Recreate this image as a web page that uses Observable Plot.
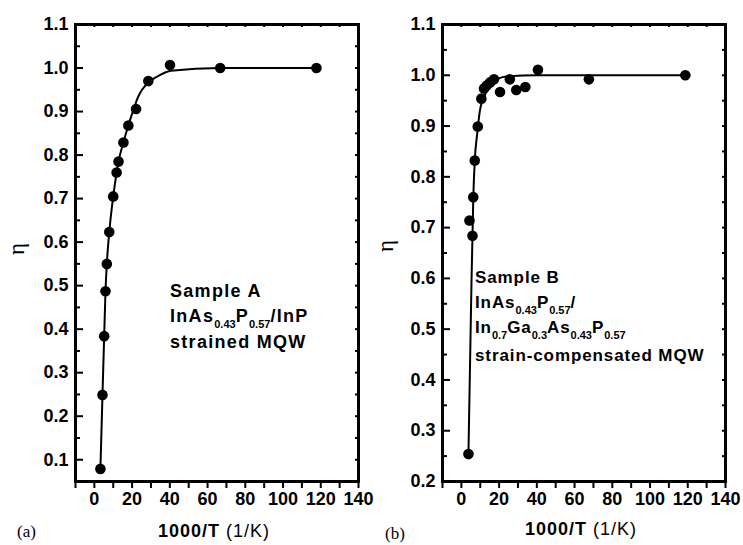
<!DOCTYPE html>
<html><head><meta charset="utf-8">
<script src="https://cdn.jsdelivr.net/npm/d3@7"></script>
<script src="https://cdn.jsdelivr.net/npm/@observablehq/plot@0.6"></script>
<style>
body{margin:0;background:#fff;}
#root{position:relative;width:743px;height:545px;overflow:hidden;font-family:"Liberation Sans",Arial,sans-serif;color:#000;}
.panel{position:absolute;top:0;}
.panel text{font-weight:bold;font-family:"Liberation Sans",Arial,sans-serif;}
.lab{position:absolute;white-space:nowrap;line-height:18px;}
.ann{font-weight:bold;}
.sub{font-size:11px;position:relative;top:6px;letter-spacing:0;}
.eta{font-family:"Liberation Serif","Times New Roman",serif;font-size:23px;transform:translate(-50%,-50%) rotate(-90deg);}
.tag{font-family:"Liberation Serif","Times New Roman",serif;font-size:17px;}
.xt{font-size:18px;letter-spacing:1px;transform:translateX(-50%);}
</style></head><body><div id="root"></div>
<script>
// ---- data ----
const xTicks = [0, 20, 40, 60, 80, 100, 120, 140];
const xMinor = [-10, 10, 30, 50, 70, 90, 110, 130];
const yTicksA = [0.1, 0.2, 0.3, 0.4, 0.5, 0.6, 0.7, 0.8, 0.9, 1.0, 1.1];
const yMinorA = [0.05, 0.15, 0.25, 0.35, 0.45, 0.55, 0.65, 0.75, 0.85, 0.95, 1.05];
const yTicksB = [0.2, 0.3, 0.4, 0.5, 0.6, 0.7, 0.8, 0.9, 1.0, 1.1];
const yMinorB = [0.25, 0.35, 0.45, 0.55, 0.65, 0.75, 0.85, 0.95, 1.05];

// Sample A measured points
const aX = [3.2, 4.3, 5.2, 5.9, 6.6, 7.9, 10.0, 11.8, 12.8, 15.4, 18.0, 22.1, 28.6, 40.1, 66.7, 117.7];
const aY = [0.079, 0.249, 0.384, 0.487, 0.550, 0.623, 0.705, 0.760, 0.785, 0.829, 0.868, 0.906, 0.970, 1.007, 1.000, 1.000];
// Sample A fitted curve
const aFitX = [3.2, 4.3, 5.2, 5.9, 6.6, 7.9, 10.0, 11.8, 12.8, 15.4, 18.0, 20.9, 23.0, 28.6, 34.0, 40.5, 66.7, 117.7];
const aFitY = [0.079, 0.249, 0.384, 0.487, 0.550, 0.623, 0.705, 0.760, 0.785, 0.829, 0.868, 0.906, 0.932, 0.967, 0.982, 0.994, 1.000, 1.000];

// Sample B measured points
const bX = [3.75, 5.9, 4.3, 6.3, 7.1, 8.7, 10.6, 12.0, 13.4, 15.2, 17.3, 20.5, 25.7, 29.1, 33.9, 40.6, 67.6, 118.7];
const bY = [0.254, 0.684, 0.714, 0.760, 0.832, 0.899, 0.954, 0.974, 0.980, 0.986, 0.992, 0.967, 0.992, 0.971, 0.977, 1.011, 0.992, 1.000];
// Sample B fitted curve
const bFitX = [3.75, 5.4, 5.9, 6.3, 7.1, 8.4, 9.8, 12.0, 15.5, 19.1, 25.0, 40.0, 118.7];
const bFitY = [0.254, 0.600, 0.684, 0.755, 0.832, 0.885, 0.930, 0.957, 0.983, 0.993, 0.998, 1.000, 1.000];

// ---- drawing ----
function panel({W, H, mL, mR, mT, mB, yDomain, yTicks, yMinor, px, py, fx, fy}) {
  const fw = W - mL - mR, fh = H - mT - mB;
  const pts = px.map((x, i) => ({x, y: py[i]}));
  const fit = fx.map((x, i) => ({x, y: fy[i]}));
  const fmtY = d3.format(".1f"), fmtX = d3.format("d");
  return Plot.plot({
    width: W, height: H,
    marginLeft: mL, marginRight: mR, marginTop: mT, marginBottom: mB,
    x: {domain: [-10, 140]},
    y: {domain: yDomain},
    style: {fontFamily: "'Liberation Sans', Arial, sans-serif", fontWeight: "bold", color: "#000", background: "transparent", overflow: "visible"},
    marks: [
      // tick labels as text marks (bold)
      Plot.text(yTicks, {y: d => d, text: d => fmtY(d), frameAnchor: "left", textAnchor: "end", dx: -7, fontSize: 18, fontWeight: "bold", fill: "#000"}),
      Plot.text(xTicks, {x: d => d, text: d => fmtX(d), frameAnchor: "bottom", lineAnchor: "top", dy: 11, fontSize: 18, fontWeight: "bold", fill: "#000"}),
      // outward ticks on bottom
      Plot.axisX({ticks: xTicks.concat(xMinor), tickSize: 7, tickFormat: () => "", label: null, strokeWidth: 2}),
      Plot.axisY({ticks: [], tickSize: 0, tickFormat: () => "", label: null}),
      // inward ticks on left, right, top
      Plot.tickY(yTicks, {y: d => d, insetRight: fw - 8, strokeWidth: 2}),
      Plot.tickY(yMinor, {y: d => d, insetRight: fw - 5, strokeWidth: 2}),
      Plot.tickY(yTicks.concat(yMinor), {y: d => d, insetLeft: fw - 3, strokeWidth: 2}),
      Plot.tickX(xTicks.concat(xMinor), {x: d => d, insetBottom: fh - 3, strokeWidth: 2}),
      Plot.line(fit, {x: "x", y: "y", curve: "monotone-x", strokeWidth: 2}),
      Plot.dot(pts, {x: "x", y: "y", r: 5.3, fill: "#000", stroke: "none"}),
      Plot.frame({strokeWidth: 3})
    ]
  });
}

const root = document.getElementById("root");
const left = panel({W: 370, H: 545, mL: 75, mR: 12, mT: 24, mB: 64, yDomain: [0.05, 1.1], yTicks: yTicksA, yMinor: yMinorA, px: aX, py: aY, fx: aFitX, fy: aFitY});
left.classList.add("panel"); left.style.left = "0px";
root.appendChild(left);
const right = panel({W: 376, H: 545, mL: 75, mR: 18, mT: 24, mB: 64, yDomain: [0.2, 1.1], yTicks: yTicksB, yMinor: yMinorB, px: bX, py: bY, fx: bFitX, fy: bFitY});
right.classList.add("panel"); right.style.left = "367px";
root.appendChild(right);

function label(html, cls, leftPx, topPx, extra) {
  const d = document.createElement("div");
  d.className = "lab " + cls;
  d.innerHTML = html;
  d.style.left = leftPx + "px";
  d.style.top = topPx + "px";
  if (extra) Object.assign(d.style, extra);
  root.appendChild(d);
}

// axis titles
label("η", "eta", 17, 249);
label("η", "eta", 386, 246);
label("<b>1000/T</b> (1/K)", "xt", 214, 522);
label("<b>1000/T</b> (1/K)", "xt", 581, 520);
label("(a)", "tag", 17, 523);
label("(b)", "tag", 385, 525);

// annotations
const annA = {fontSize: "18px", letterSpacing: "1.3px"};
label("Sample A", "ann", 170, 281.5, annA);
label("InAs<span class='sub'>0.43</span>P<span class='sub'>0.57</span>/InP", "ann", 170, 306.5, annA);
label("strained MQW", "ann", 170, 333, annA);
const annB = {fontSize: "17px", letterSpacing: "0.9px"};
label("Sample B", "ann", 475, 268.5, annB);
label("InAs<span class='sub'>0.43</span>P<span class='sub'>0.57</span>/", "ann", 475, 293.5, annB);
label("In<span class='sub'>0.7</span>Ga<span class='sub'>0.3</span>As<span class='sub'>0.43</span>P<span class='sub'>0.57</span>", "ann", 475, 318.5, annB);
label("strain-compensated MQW", "ann", 475, 346.5, annB);
</script>
</body></html>
